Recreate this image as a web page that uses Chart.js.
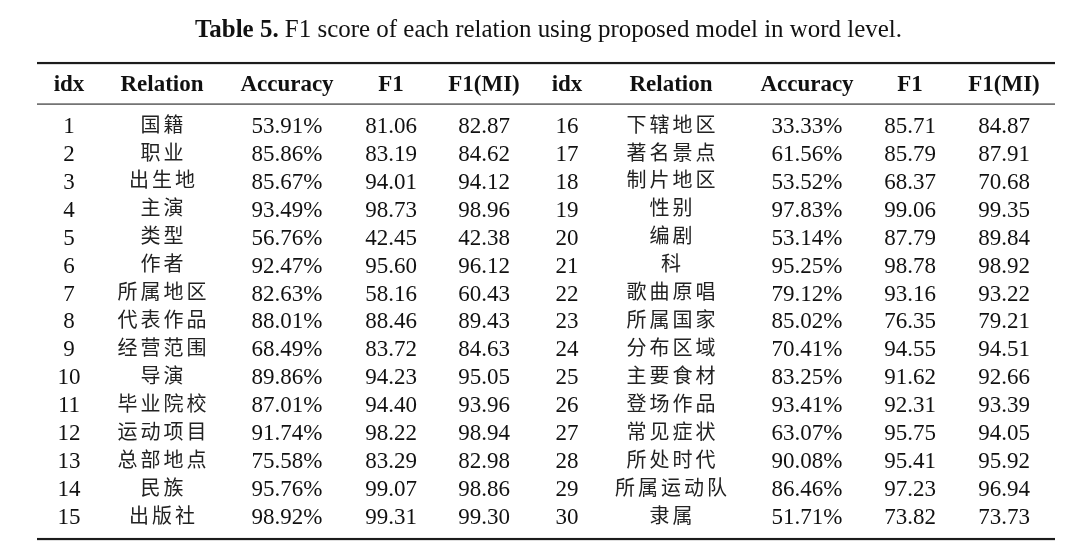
<!DOCTYPE html>
<html>
<head>
<meta charset="utf-8">
<title>Table 5</title>
<script src="https://cdn.jsdelivr.net/npm/chart.js@4.4.1/dist/chart.umd.min.js"></script>
<style>
    html, body { margin: 0; padding: 0; background: #ffffff; }
    #wrap { width: 1080px; height: 554px; position: relative; }
</style>
</head>
<body>
<div id="wrap"><canvas id="table5"></canvas></div>
<script>
// Table content
const titleBold = 'Table 5.';
const titleText = ' F1 score of each relation using proposed model in word level.';
const headers = ['idx', 'Relation', 'Accuracy', 'F1', 'F1(MI)'];

const idx = [1, 2, 3, 4, 5, 6, 7, 8, 9, 10, 11, 12, 13, 14, 15,
             16, 17, 18, 19, 20, 21, 22, 23, 24, 25, 26, 27, 28, 29, 30];
const relations = ['国籍', '职业', '出生地', '主演', '类型', '作者', '所属地区', '代表作品',
                   '经营范围', '导演', '毕业院校', '运动项目', '总部地点', '民族', '出版社',
                   '下辖地区', '著名景点', '制片地区', '性别', '编剧', '科', '歌曲原唱', '所属国家',
                   '分布区域', '主要食材', '登场作品', '常见症状', '所处时代', '所属运动队', '隶属'];
const accuracy = [53.91, 85.86, 85.67, 93.49, 56.76, 92.47, 82.63, 88.01, 68.49, 89.86,
                  87.01, 91.74, 75.58, 95.76, 98.92,
                  33.33, 61.56, 53.52, 97.83, 53.14, 95.25, 79.12, 85.02, 70.41, 83.25,
                  93.41, 63.07, 90.08, 86.46, 51.71];
const f1 = [81.06, 83.19, 94.01, 98.73, 42.45, 95.60, 58.16, 88.46, 83.72, 94.23,
            94.40, 98.22, 83.29, 99.07, 99.31,
            85.71, 85.79, 68.37, 99.06, 87.79, 98.78, 93.16, 76.35, 94.55, 91.62,
            92.31, 95.75, 95.41, 97.23, 73.82];
const f1mi = [82.87, 84.62, 94.12, 98.96, 42.38, 96.12, 60.43, 89.43, 84.63, 95.05,
              93.96, 98.94, 82.98, 98.86, 99.30,
              84.87, 87.91, 70.68, 99.35, 89.84, 98.92, 93.22, 79.21, 94.51, 92.66,
              93.39, 94.05, 95.92, 96.94, 73.73];

// Layout (x in canvas units, y in row units)
const rowsPerHalf = 15;
const colX = [69, 162, 287, 391, 484, 567, 671, 807, 910, 1004];
const tableLeft = 37, tableRight = 1055;
const titleCenter = 548.5, titleWidth = 707;
const firstRowPx = 125, rowStep = 27.95;
const titleRow = -3.15, topRule = -2.22, headerRow = -1.43, midRule = -0.75, bottomRule = 14.81;

const serif = '"Liberation Serif", "Times New Roman", serif';
const cjk = '"Noto Sans CJK SC", sans-serif';
const ink = '#111111';

const formats = [
    v => String(v),
    v => v,
    v => v.toFixed(2) + '%',
    v => v.toFixed(2),
    v => v.toFixed(2)
];
const columns = [idx, relations, accuracy, f1, f1mi];

const datasets = columns.map((values, c) => ({
    label: headers[c],
    texts: values.map(formats[c]),
    isCjk: c === 1,
    data: values.map((v, i) => ({ x: colX[Math.floor(i / rowsPerHalf) * 5 + c], y: i % rowsPerHalf })),
    pointRadius: 0,
    pointHoverRadius: 0
}));

function drawLatin(ctx, text, x, y, bold) {
    ctx.font = (bold ? 'bold ' : '') + '23px ' + serif;
    ctx.textAlign = 'center';
    ctx.textBaseline = 'alphabetic';
    ctx.fillText(text, x, y + 7.8);
}

function drawCjk(ctx, text, x, y) {
    ctx.font = '20px ' + cjk;
    ctx.textAlign = 'left';
    ctx.textBaseline = 'middle';
    const chars = Array.from(text);
    const gap = 3;
    const widths = chars.map(ch => ctx.measureText(ch).width);
    const total = widths.reduce((a, b) => a + b, 0) + gap * (chars.length - 1);
    let cx = x - total / 2;
    chars.forEach((ch, k) => {
        ctx.fillText(ch, cx, y - 1);
        cx += widths[k] + gap;
    });
}

const tablePlugin = {
    id: 'tablePlugin',
    afterDraw(chart) {
        const ctx = chart.ctx;
        const xs = chart.scales.x;
        const ys = chart.scales.y;
        ctx.save();
        ctx.fillStyle = ink;

        // Title: bold label followed by caption, fitted to the original width
        ctx.textBaseline = 'alphabetic';
        ctx.textAlign = 'left';
        ctx.font = 'bold 25px ' + serif;
        const wBold = ctx.measureText(titleBold).width;
        ctx.font = '25px ' + serif;
        const wRest = ctx.measureText(titleText).width;
        const sx = titleWidth / (wBold + wRest);
        const tx = xs.getPixelForValue(titleCenter - titleWidth / 2);
        const ty = ys.getPixelForValue(titleRow);
        ctx.save();
        ctx.translate(tx, ty);
        ctx.scale(sx, 1);
        ctx.font = 'bold 25px ' + serif;
        ctx.fillText(titleBold, 0, 0);
        ctx.font = '25px ' + serif;
        ctx.fillText(titleText, wBold, 0);
        ctx.restore();

        // Rules
        const left = xs.getPixelForValue(tableLeft);
        const width = xs.getPixelForValue(tableRight) - left;
        ctx.fillStyle = '#1c1c1c';
        ctx.fillRect(left, ys.getPixelForValue(topRule) - 1, width, 2.2);
        ctx.fillRect(left, ys.getPixelForValue(bottomRule) - 1, width, 2.2);
        ctx.fillStyle = '#444444';
        ctx.fillRect(left, ys.getPixelForValue(midRule) - 0.6, width, 1.3);

        // Header row
        ctx.fillStyle = ink;
        const hy = ys.getPixelForValue(headerRow);
        colX.forEach((cx, k) => {
            drawLatin(ctx, headers[k % 5], xs.getPixelForValue(cx), hy - 2, true);
        });

        // Body cells at the points placed by the scales
        chart.data.datasets.forEach((ds, di) => {
            const meta = chart.getDatasetMeta(di);
            meta.data.forEach((pt, i) => {
                if (ds.isCjk) {
                    ctx.fillStyle = '#222222';
                    drawCjk(ctx, ds.texts[i], pt.x, pt.y);
                } else {
                    ctx.fillStyle = ink;
                    drawLatin(ctx, ds.texts[i], pt.x, pt.y, false);
                }
            });
        });
        ctx.restore();
    }
};

const ctx = document.getElementById('table5').getContext('2d');
const table = new Chart(ctx, {
    type: 'scatter',
    data: { datasets: datasets },
    options: {
        responsive: true,
        maintainAspectRatio: false,
        animation: false,
        events: [],
        layout: { padding: 0 },
        plugins: {
            legend: { display: false },
            tooltip: { enabled: false },
            title: { display: false }
        },
        scales: {
            x: { type: 'linear', min: 0, max: 1080, display: false },
            y: {
                type: 'linear',
                reverse: true,
                min: -firstRowPx / rowStep,
                max: (554 - firstRowPx) / rowStep,
                display: false
            }
        }
    },
    plugins: [tablePlugin]
});
</script>
</body>
</html>
